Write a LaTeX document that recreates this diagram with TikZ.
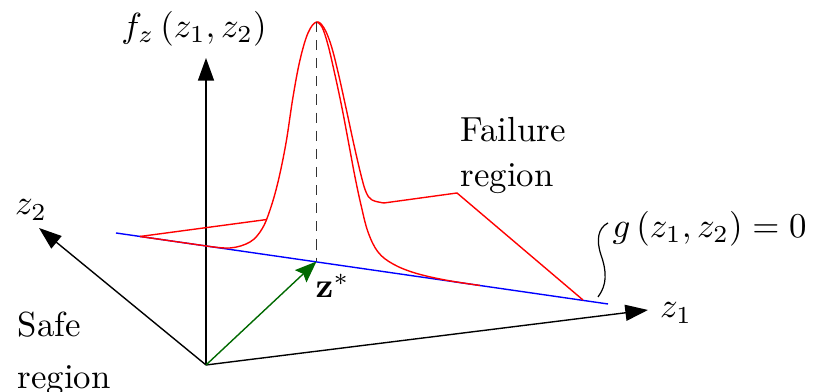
\documentclass[tikz,border=0pt]{standalone}
\usetikzlibrary{arrows.meta}
\definecolor{zgreen}{RGB}{0,105,0}
\begin{document}
\begin{tikzpicture}[x=0.287pt,y=-0.287pt,
  axis/.style={line width=0.4pt,-{Triangle[length=6.5pt,width=4.6pt]}},
  curve/.style={red,line width=0.4pt},
  lbl/.style={inner sep=0pt,font=\fontsize{10}{12}\selectfont}]
\useasboundingbox (0,0) rectangle (821,392);
% coordinates
\coordinate (O) at (206,365);
\coordinate (ztop) at (206,58);
\coordinate (z2tip) at (39,228);
\coordinate (z1tip) at (648,310);
\coordinate (bA) at (116,233);
\coordinate (bB) at (608,304);
\coordinate (zs) at (316.5,261.5);
\coordinate (peak) at (316.5,22);
\coordinate (gp) at (598,297);
\coordinate (gq) at (608,223);
% axes
\draw[axis] (O) -- (ztop);
\draw[axis] (O) -- (z2tip);
\draw[axis] (O) -- (z1tip);
% limit state line
\draw[blue,line width=0.4pt] (bA) -- (bB);
% red surface
\draw[curve] (140,236.5) -- (267,219.5);
\draw[curve] (140,236.5) -- (205,245.8)
  plot[smooth,tension=0.6] coordinates {(205,245.8) (230,248) (250,242) (262,229) (270,210) (278,182) (286,143) (293,97) (300,60) (308,33) (316.5,22) (324,28) (331,45) (338,72) (346,108) (354,145) (361,175) (366,192) (372,200) (384,203)}
  -- (457,193) -- (583,300);
\draw[curve] plot[smooth,tension=0.6] coordinates {(316.5,22) (322,27) (328,45) (335,75) (342,108) (349,145) (355,177) (361,205) (368,232) (378,252) (393,264) (415,273) (445,280) (480,285.5)};
% dashed line to design point
\draw[black!80,line width=0.5pt,dash pattern=on 2.9pt off 2.3pt] (peak) -- (zs);
% design point vector
\draw[zgreen,line width=0.4pt,-{Stealth[length=6.2pt,width=4.8pt,inset=1pt]}] (O) -- (zs);
% g label leader
\draw[line width=0.35pt] (gp) .. controls (607,285) and (607,272) .. (601,255) .. controls (596,240) and (598,228) .. (gq);
% labels
\node[lbl] (fz) at (194,29) {$f_z\left(z_1,z_2\right)$};
\node[lbl] (z2) at (31,210) {$z_2$};
\node[lbl] (z1) at (676,313) {$z_1$};
\node[lbl,anchor=west] (g) at (612,229) {$g\left(z_1,z_2\right)=0$};
\node[lbl,anchor=base west] (zstar) at (315,298) {$\mathbf{z}^*$};
\node[lbl,anchor=north west,align=left] (fail) at (460,117) {Failure\\[0.9pt]region};
\node[lbl,anchor=north west,align=left] (safe) at (17,311.5) {Safe\\[2.9pt]region};
\end{tikzpicture}
\end{document}
